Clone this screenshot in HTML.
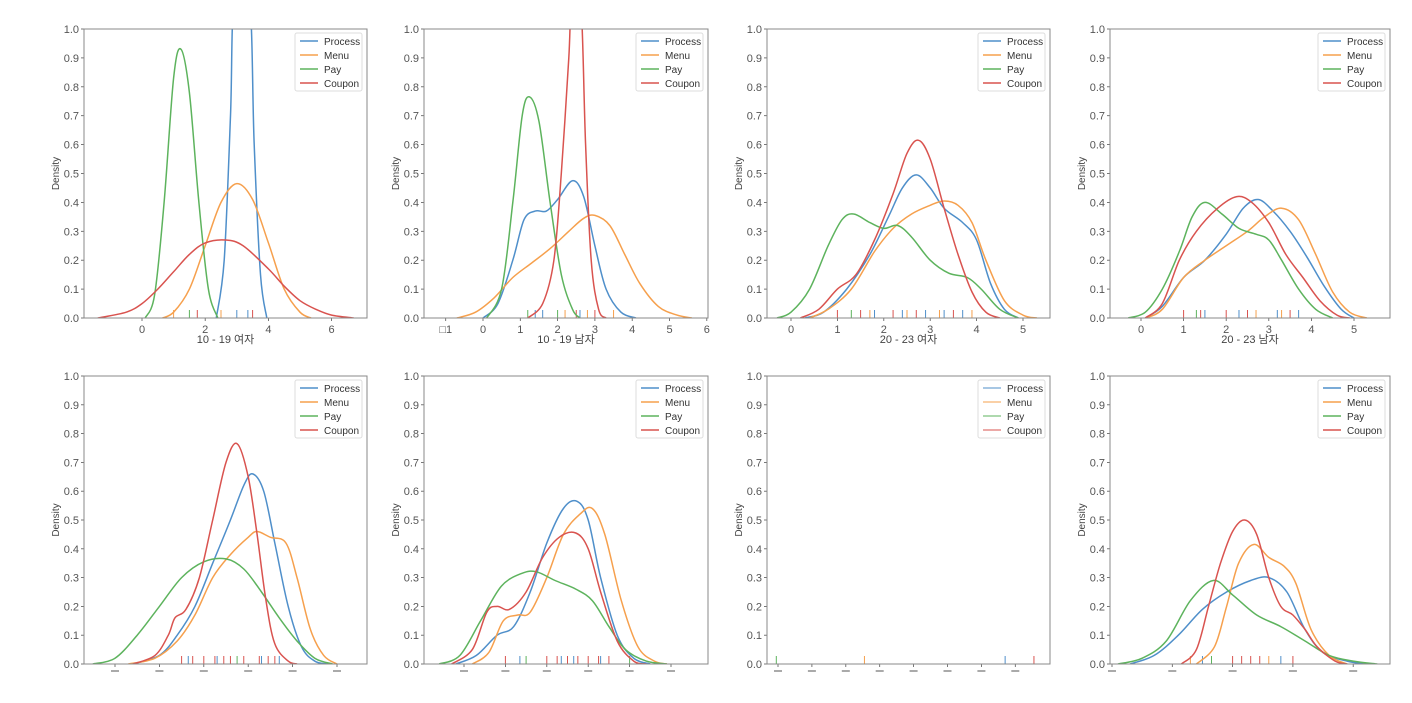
<!DOCTYPE html>
<html><head><meta charset="utf-8"><style>
html,body{margin:0;padding:0;background:#fff;}
svg text{font-family:"Liberation Sans","Noto Sans CJK KR",sans-serif;}
</style></head><body>
<svg id="chart" width="1412" height="698" viewBox="0 0 1412 698" xmlns="http://www.w3.org/2000/svg"></svg>
<script>
// ---- data (x in tick units, density) ----
const seriesNames = ["Process","Menu","Pay","Coupon"];
const p1Process = [[2.35,0],[2.6,0.2],[2.8,0.7],[2.92,1.1],[3.4,1.1],[3.55,0.6],[3.75,0.15],[3.95,0]];
const p1Menu = [[0.65,0],[1,0.02],[1.5,0.1],[2,0.25],[2.5,0.4],[3,0.465],[3.5,0.41],[4,0.26],[4.5,0.1],[5,0.02],[5.35,0]];
const p1Pay = [[0.1,0],[0.4,0.08],[0.7,0.4],[1.0,0.83],[1.23,0.93],[1.5,0.78],[1.8,0.4],[2.1,0.1],[2.4,0]];
const p1Coupon = [[-1.4,0],[-0.5,0.02],[0,0.05],[0.5,0.1],[1,0.16],[1.5,0.22],[2,0.26],[2.65,0.27],[3.2,0.25],[4,0.17],[4.5,0.11],[5,0.06],[5.5,0.03],[6,0.01],[6.7,0]];
const p1Rug = [[1.0,1],[1.5,2],[1.75,3],[2.5,1],[3.0,0],[3.35,0],[3.5,3]];

const p2Process = [[0,0],[0.4,0.05],[0.8,0.2],[1.1,0.34],[1.4,0.37],[1.7,0.37],[2.0,0.41],[2.4,0.475],[2.7,0.42],[3.0,0.25],[3.3,0.1],[3.7,0.02],[4.1,0]];
const p2Menu = [[-0.7,0],[-0.2,0.02],[0.3,0.07],[0.8,0.14],[1.3,0.19],[1.8,0.24],[2.3,0.3],[2.7,0.345],[3.0,0.355],[3.4,0.32],[3.8,0.22],[4.2,0.12],[4.7,0.04],[5.2,0.01],[5.6,0]];
const p2Pay = [[0.1,0],[0.5,0.1],[0.8,0.4],[1.05,0.7],[1.25,0.765],[1.5,0.68],[1.8,0.4],[2.1,0.15],[2.4,0.03],[2.6,0]];
const p2Coupon = [[1.2,0],[1.6,0.05],[1.9,0.2],[2.1,0.5],[2.3,0.9],[2.38,1.1],[2.62,1.1],[2.75,0.6],[2.9,0.2],[3.1,0.03],[3.3,0]];
const p2Rug = [[1.2,2],[1.4,0],[1.6,0],[2.0,2],[2.2,1],[2.5,3],[2.6,0],[2.8,1],[3.0,3],[3.5,1]];

const p3Process = [[0.3,0],[0.7,0.02],[1.2,0.1],[1.7,0.22],[2.1,0.35],[2.4,0.45],[2.7,0.495],[3.0,0.45],[3.3,0.38],[3.7,0.33],[4.0,0.27],[4.3,0.12],[4.6,0.03],[4.9,0]];
const p3Menu = [[0.4,0],[0.8,0.03],[1.3,0.1],[1.8,0.23],[2.2,0.31],[2.6,0.36],[3.0,0.39],[3.3,0.405],[3.6,0.39],[3.9,0.33],[4.2,0.2],[4.6,0.06],[5.0,0.01],[5.3,0]];
const p3Pay = [[-0.3,0],[0,0.02],[0.4,0.1],[0.8,0.25],[1.1,0.34],[1.35,0.36],[1.7,0.33],[2.0,0.31],[2.3,0.32],[2.6,0.28],[3.0,0.2],[3.4,0.155],[3.8,0.14],[4.1,0.1],[4.5,0.03],[4.9,0]];
const p3Coupon = [[0.2,0],[0.6,0.03],[1.0,0.1],[1.4,0.15],[1.8,0.27],[2.2,0.43],[2.5,0.57],[2.75,0.615],[3.0,0.55],[3.3,0.38],[3.6,0.22],[3.9,0.09],[4.2,0.02],[4.5,0]];
const p3Rug = [[1.0,3],[1.3,2],[1.5,3],[1.7,1],[1.8,0],[2.2,3],[2.4,0],[2.5,1],[2.7,3],[2.9,0],[3.2,1],[3.3,0],[3.5,3],[3.7,0],[3.9,1]];

const p4Process = [[0.1,0],[0.5,0.04],[1.0,0.14],[1.5,0.2],[2.0,0.29],[2.4,0.38],[2.75,0.41],[3.1,0.37],[3.5,0.3],[3.9,0.21],[4.3,0.11],[4.7,0.03],[5.0,0]];
const p4Menu = [[0.1,0],[0.5,0.03],[1.0,0.14],[1.5,0.2],[2.0,0.25],[2.5,0.3],[2.9,0.35],[3.3,0.38],[3.7,0.34],[4.1,0.22],[4.5,0.09],[4.9,0.02],[5.3,0]];
const p4Pay = [[-0.3,0],[0.1,0.02],[0.5,0.1],[0.9,0.23],[1.2,0.35],[1.5,0.4],[1.9,0.36],[2.3,0.31],[2.7,0.29],[3.0,0.27],[3.3,0.2],[3.7,0.1],[4.1,0.03],[4.5,0]];
const p4Coupon = [[0.1,0],[0.5,0.05],[0.9,0.2],[1.3,0.3],[1.8,0.38],[2.25,0.42],[2.6,0.4],[3.0,0.33],[3.4,0.22],[3.8,0.14],[4.2,0.06],[4.6,0.01],[4.9,0]];
const p4Rug = [[1.0,3],[1.3,2],[1.4,3],[1.5,0],[2.0,3],[2.3,0],[2.5,3],[2.7,1],[3.2,0],[3.3,1],[3.5,3],[3.7,0]];

const p5Process = [[0.4,0],[1.0,0.03],[1.4,0.1],[1.8,0.2],[2.2,0.35],[2.6,0.5],[2.9,0.62],[3.1,0.66],[3.35,0.6],[3.6,0.42],[3.9,0.2],[4.2,0.06],[4.5,0.01],[4.8,0]];
const p5Menu = [[0.3,0],[0.9,0.02],[1.4,0.08],[1.8,0.17],[2.2,0.3],[2.6,0.38],[3.0,0.44],[3.2,0.46],[3.5,0.44],[3.85,0.42],[4.1,0.3],[4.4,0.12],[4.7,0.03],[5.0,0]];
const p5Pay = [[-0.5,0],[0,0.02],[0.5,0.1],[1.0,0.2],[1.5,0.3],[2.0,0.355],[2.5,0.365],[2.9,0.33],[3.3,0.25],[3.7,0.16],[4.1,0.08],[4.5,0.02],[4.9,0]];
const p5Coupon = [[0.4,0],[0.9,0.03],[1.2,0.1],[1.35,0.16],[1.6,0.19],[1.9,0.3],[2.2,0.5],[2.5,0.7],[2.75,0.765],[3.0,0.65],[3.2,0.45],[3.4,0.22],[3.6,0.07],[3.9,0.01],[4.1,0]];
const p5Rug = [[1.5,3],[1.65,0],[1.75,3],[2.0,3],[2.25,3],[2.3,0],[2.45,3],[2.6,3],[2.75,2],[2.9,3],[3.25,3],[3.3,0],[3.45,3],[3.6,3],[3.7,0]];

const p6Process = [[-0.2,0],[0.3,0.03],[0.8,0.1],[1.2,0.13],[1.6,0.25],[2.0,0.42],[2.4,0.54],[2.73,0.565],[3.0,0.5],[3.3,0.3],[3.7,0.1],[4.1,0.02],[4.5,0]];
const p6Menu = [[0.2,0],[0.6,0.04],[0.95,0.15],[1.3,0.17],[1.6,0.18],[2.0,0.3],[2.4,0.45],[2.8,0.52],[3.1,0.54],[3.4,0.45],[3.8,0.22],[4.2,0.06],[4.6,0.01],[4.9,0]];
const p6Pay = [[-0.6,0],[-0.1,0.03],[0.4,0.15],[0.9,0.27],[1.4,0.315],[1.75,0.32],[2.2,0.29],[2.7,0.26],[3.1,0.22],[3.5,0.13],[3.9,0.05],[4.4,0.01],[4.9,0]];
const p6Coupon = [[-0.3,0],[0.2,0.05],[0.55,0.18],[0.8,0.2],[1.1,0.19],[1.5,0.25],[1.9,0.37],[2.3,0.44],[2.7,0.455],[3.0,0.4],[3.3,0.25],[3.7,0.08],[4.1,0.01],[4.4,0]];
const p6Rug = [[1.0,3],[1.35,0],[1.5,2],[2.0,3],[2.25,3],[2.35,0],[2.5,3],[2.65,0],[2.75,3],[3.0,3],[3.25,3],[3.3,0],[3.5,3],[4.0,2]];

const p7Rug = [[-0.05,2],[2.55,1],[6.7,0],[7.55,3]];

const p8Process = [[0.3,0],[0.7,0.03],[1.1,0.1],[1.5,0.19],[1.9,0.25],[2.3,0.29],[2.6,0.3],[2.9,0.25],[3.2,0.12],[3.5,0.04],[3.9,0.01],[4.2,0]];
const p8Menu = [[1.4,0],[1.7,0.06],[1.9,0.2],[2.1,0.35],[2.35,0.415],[2.6,0.37],[2.85,0.34],[3.05,0.28],[3.3,0.12],[3.6,0.03],[3.9,0]];
const p8Pay = [[0.1,0],[0.5,0.02],[0.9,0.08],[1.3,0.22],[1.68,0.29],[2.0,0.24],[2.4,0.17],[2.8,0.13],[3.2,0.08],[3.6,0.03],[4.0,0.01],[4.4,0]];
const p8Coupon = [[1.15,0],[1.4,0.05],[1.6,0.2],[1.8,0.35],[2.0,0.46],[2.2,0.5],[2.4,0.45],[2.6,0.3],[2.8,0.2],[3.0,0.17],[3.2,0.12],[3.4,0.06],[3.7,0.01],[3.9,0]];
const p8Rug = [[1.3,1],[1.5,0],[1.65,2],[2.0,3],[2.15,3],[2.3,3],[2.45,3],[2.6,1],[2.8,0],[3.0,3]];

const yTicks = [0,0.1,0.2,0.3,0.4,0.5,0.6,0.7,0.8,0.9,1.0];
const p1XTicks = ["0","2","4","6"], p1XVals=[0,2,4,6];
const p2XTicks = ["\u25A11","0","1","2","3","4","5","6"], p2XVals=[-1,0,1,2,3,4,5,6];
const p3XTicks = ["0","1","2","3","4","5"], p3XVals=[0,1,2,3,4,5];
const p4XTicks = ["0","1","2","3","4","5"], p4XVals=[0,1,2,3,4,5];
const xTitles = ["10 - 19 여자","10 - 19 남자","20 - 23 여자","20 - 23 남자","","","",""];

// ---- layout ----
const colors = ["#4f8fca","#f6a04d","#5db35d","#d9534f"];
const cols = [[84,367],[424,708],[767,1050],[1110,1390]];
const rows = [[29,318],[376,664]];
const panels = [
 {c:0,r:0,x0:142,u:31.6,series:[p1Process,p1Menu,p1Pay,p1Coupon],rug:p1Rug,xt:p1XTicks,xv:p1XVals,small:false},
 {c:1,r:0,x0:483,u:37.3,series:[p2Process,p2Menu,p2Pay,p2Coupon],rug:p2Rug,xt:p2XTicks,xv:p2XVals,small:false},
 {c:2,r:0,x0:791,u:46.4,series:[p3Process,p3Menu,p3Pay,p3Coupon],rug:p3Rug,xt:p3XTicks,xv:p3XVals,small:false},
 {c:3,r:0,x0:1141,u:42.6,series:[p4Process,p4Menu,p4Pay,p4Coupon],rug:p4Rug,xt:p4XTicks,xv:p4XVals,small:false},
 {c:0,r:1,x0:115,u:44.4,series:[p5Process,p5Menu,p5Pay,p5Coupon],rug:p5Rug,xv:[0,1,2,3,4,5],small:true},
 {c:1,r:1,x0:464,u:41.4,series:[p6Process,p6Menu,p6Pay,p6Coupon],rug:p6Rug,xv:[0,1,2,3,4,5],small:true},
 {c:2,r:1,x0:778,u:33.9,series:[],rug:p7Rug,xv:[0,1,2,3,4,5,6,7],small:true,thin:true},
 {c:3,r:1,x0:1112,u:60.3,series:[p8Process,p8Menu,p8Pay,p8Coupon],rug:p8Rug,xv:[0,1,2,3,4],small:true}
];
const NS="http://www.w3.org/2000/svg";
const svg=document.getElementById('chart');
function mk(tag,attrs,parent){const e=document.createElementNS(NS,tag);for(const k in attrs)e.setAttribute(k,attrs[k]);(parent||svg).appendChild(e);return e;}
function crPath(pts){
  let d="M"+pts[0][0].toFixed(1)+","+pts[0][1].toFixed(1);
  for(let i=0;i<pts.length-1;i++){
    const p0=pts[Math.max(0,i-1)],p1=pts[i],p2=pts[i+1],p3=pts[Math.min(pts.length-1,i+2)];
    const c1x=p1[0]+(p2[0]-p0[0])/6,c1y=p1[1]+(p2[1]-p0[1])/6;
    const c2x=p2[0]-(p3[0]-p1[0])/6,c2y=p2[1]-(p3[1]-p1[1])/6;
    d+=" C"+c1x.toFixed(1)+","+c1y.toFixed(1)+" "+c2x.toFixed(1)+","+c2y.toFixed(1)+" "+p2[0].toFixed(1)+","+p2[1].toFixed(1);
  }
  return d;
}
panels.forEach((p,i)=>{
  const [L,R]=cols[p.c],[T,B]=rows[p.r];
  const g=mk('g',{});
  
  
  const X=v=>p.x0+v*p.u, Y=v=>B-v*(B-T);
  const clip=mk('clipPath',{id:'clip'+i},g);
  mk('rect',{x:L,y:T,width:R-L,height:B-T},clip);
  // y ticks
  yTicks.forEach(t=>{
    mk('line',{x1:L-3,x2:L,y1:Y(t),y2:Y(t),stroke:'#555','stroke-width':0.8},g);
    const tx=mk('text',{x:L-5,y:Y(t)+4,'text-anchor':'end','font-size':11,fill:'#555'},g);
    tx.textContent=t.toFixed(1);
    
    
  });
  const yl=mk('text',{x:0,y:0,'font-size':10,fill:'#444','text-anchor':'middle',transform:`translate(${L-25},${(T+B)/2}) rotate(-90)`},g);
  yl.textContent='Density';
  
  
  // x ticks
  p.xv.forEach((v,k)=>{
    mk('line',{x1:X(v),x2:X(v),y1:B,y2:B+3,stroke:'#555','stroke-width':0.8},g);
    if(!p.small){
      const tx=mk('text',{x:X(v),y:B+15,'text-anchor':'middle','font-size':11,fill:'#555'},g);
      tx.textContent=p.xt[k];
      
      
    } else {
      mk('rect',{x:X(v)-4,y:B+6,width:8,height:2,fill:'#aaa'},g);
    }
  });
  if(xTitles[i]){
    const xt=mk('text',{x:(L+R)/2,y:B+25,'text-anchor':'middle','font-size':11,fill:'#444'},g);
    xt.textContent=xTitles[i];
    
    
  }
  const cg=mk('g',{'clip-path':`url(#clip${i})`},g);
  // rug
  p.rug.forEach(r=>{
    const rl=mk('line',{x1:X(r[0]),x2:X(r[0]),y1:B,y2:B-8,stroke:colors[r[1]],'stroke-width':1},cg);
    
    
  });
  // curves
  p.series.forEach((s,k)=>{
    const pts=s.map(q=>[X(q[0]),Y(q[1])]);
    const path=mk('path',{d:crPath(pts),fill:'none',stroke:colors[k],'stroke-width':1.5},cg);
    
    
  });
  // frame
  mk('rect',{x:L,y:T,width:R-L,height:B-T,fill:'none',stroke:'#888','stroke-width':1},g);
  // legend
  const lg=mk('g',{},g);
  
  
  const lx=R-72, ly=T+4;
  mk('rect',{x:lx,y:ly,width:67,height:58,fill:'#fff',stroke:'#ddd','stroke-width':1,rx:2},lg);
  seriesNames.forEach((n,k)=>{
    const e=mk('g',{},lg);
    
    
    mk('line',{x1:lx+5,x2:lx+23,y1:ly+8+k*14,y2:ly+8+k*14,stroke:colors[k],'stroke-width':p.thin?1:1.5},e);
    const t=mk('text',{x:lx+29,y:ly+12+k*14,'font-size':10,fill:'#333'},e);
    t.textContent=n;
  });
});
</script>
</body></html>
